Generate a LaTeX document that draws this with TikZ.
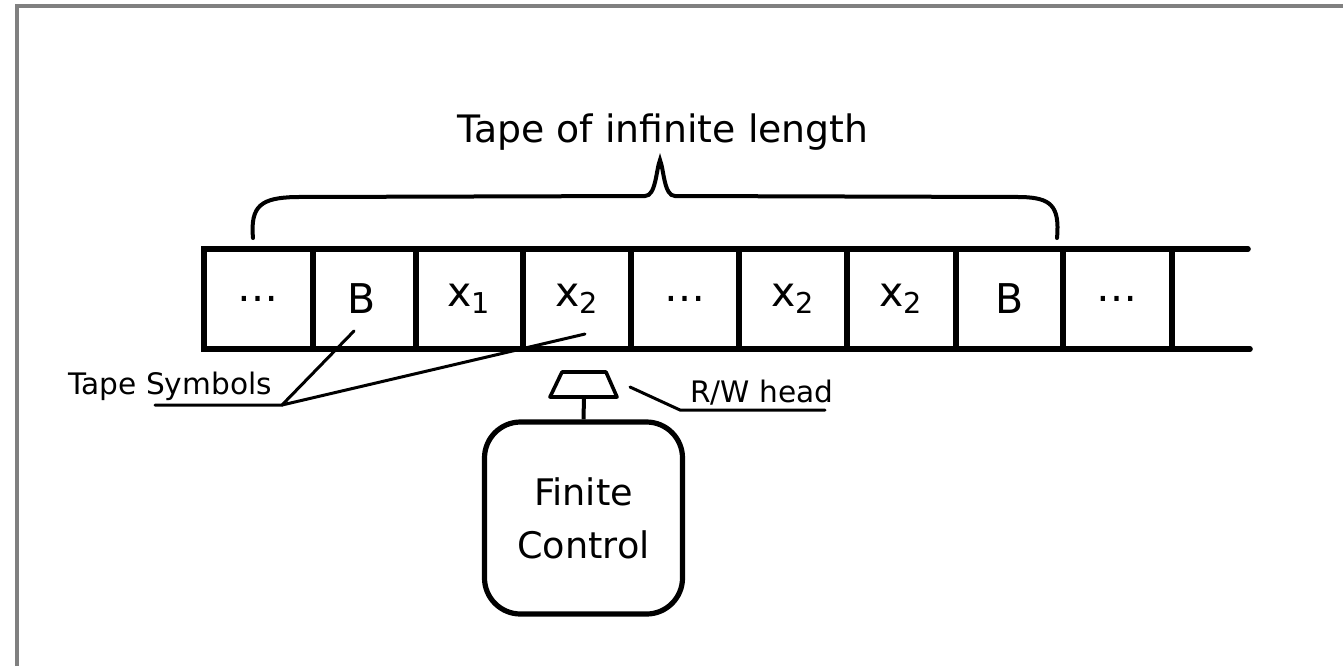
\documentclass[tikz,border=0pt]{standalone}
\usepackage{fontspec}
\setmainfont{DejaVu Sans}
\begin{document}
\begin{tikzpicture}[x=0.5pt,y=-0.5pt,
  tape/.style={line width=2.8pt, line cap=round},
  celltext/.style={font=\fontsize{20.5}{24}\selectfont, inner sep=0pt},
  lbl/.style={font=\fontsize{14.8}{17}\selectfont, inner sep=0pt, anchor=base west},
  pointer/.style={line width=1.5pt, line cap=round},
  bracestyle/.style={line width=2pt, line cap=round},
  control/.style={draw, line width=2.6pt, rounded corners=18pt, minimum width=99pt, minimum height=96pt, align=center, font=\fontsize{18.3}{26.5}\selectfont, inner sep=0pt}
]
\useasboundingbox (0,0) rectangle (1343,666);
\draw[color=black!50, line width=1.6pt] (17,666) -- (17,6) -- (1343,6);

% tape
\coordinate (tl) at (204,249);
\coordinate (bl) at (204,349);
\coordinate (tr) at (1248,249);
\coordinate (br) at (1250,349);
\draw[tape] (tr) -- (tl) -- (bl) -- (br);
\foreach \x in {313,416,523,631,739,847,956,1063,1172}
  \draw[tape] (\x,249) -- (\x,349);

\node[celltext] (c1) at (258,299) {…};
\node[celltext] (c2) at (362,299) {B};
\node[celltext] (c3) at (469,299) {x\textsubscript{1}};
\node[celltext] (c4) at (577,299) {x\textsubscript{2}};
\node[celltext] (c5) at (685,299) {…};
\node[celltext] (c6) at (793,299) {x\textsubscript{2}};
\node[celltext] (c7) at (901,299) {x\textsubscript{2}};
\node[celltext] (c8) at (1010,299) {B};
\node[celltext] (c9) at (1117,299) {…};

% brace
\coordinate (bL) at (253,238);
\coordinate (bR) at (1057,238);
\coordinate (bT) at (660,160);
\draw[bracestyle] (bL) .. controls (250,205) and (262,198) .. (295,197)
  -- (645,196) .. controls (656,196) and (656,170) .. (bT)
  .. controls (664,170) and (664,196) .. (675,196)
  -- (1022,197) .. controls (1050,198) and (1060,205) .. (bR);
\node[font=\fontsize{18.9}{22}\selectfont, inner sep=0pt, anchor=base] (title) at (663,142) {Tape of infinite length};

% tape symbols label
\node[lbl] (ts) at (68,394) {Tape Symbols};
\coordinate (tsL) at (155,405);
\coordinate (tsJ) at (282,405);
\coordinate (pB) at (354,331);
\coordinate (pX) at (585,334);
\draw[pointer] (tsL) -- (tsJ) -- (pB);
\draw[pointer] (tsJ) -- (pX);

% head
\node[control] (fc) at (583.5,518) {Finite\\Control};
\coordinate (hb) at (584,397);
\draw[line width=1.8pt, line join=round] (562,372) -- (606,372) -- (617,397) -- (550,397) -- cycle;
\draw[line width=2pt] (hb) -- (fc.north);

% R/W head label
\node[lbl] (rw) at (690,402) {R/W head};
\coordinate (rwA) at (630,387);
\coordinate (rwB) at (680,410);
\coordinate (rwC) at (825,410);
\draw[pointer] (rwA) -- (rwB) -- (rwC);
\end{tikzpicture}
\end{document}
